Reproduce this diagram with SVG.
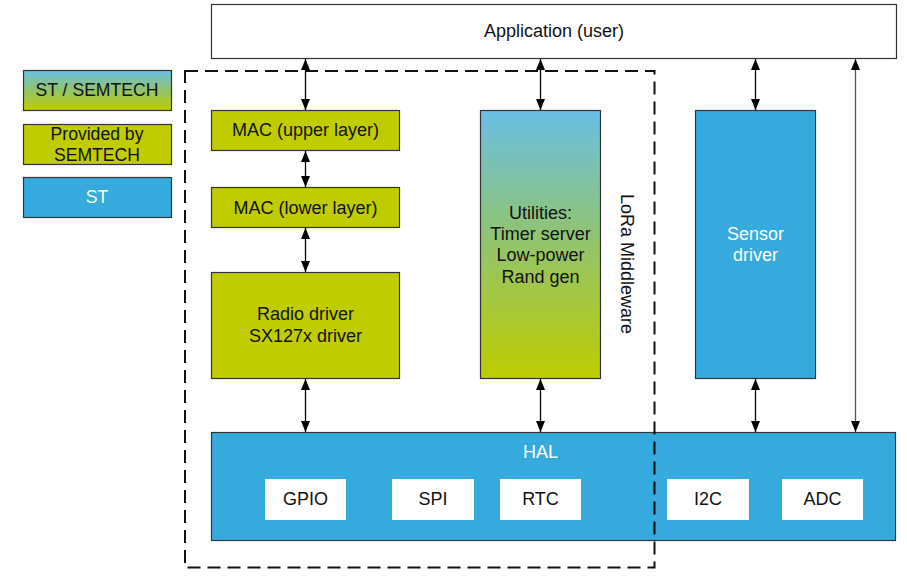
<svg xmlns="http://www.w3.org/2000/svg" width="907" height="585" viewBox="0 0 907 585">
<defs>
<linearGradient id="grad" x1="0" y1="0" x2="0" y2="1">
<stop offset="0" stop-color="#69BFE5"/>
<stop offset="0.5" stop-color="#93C46A"/>
<stop offset="1" stop-color="#BDCC00"/>
</linearGradient>
<marker id="ah" markerUnits="userSpaceOnUse" markerWidth="12" markerHeight="9" refX="11" refY="4.5" orient="auto-start-reverse">
<path d="M0,0 L11,4.5 L0,9 z" fill="#000"/>
</marker>
</defs>
<style>
.box{stroke:#333;stroke-width:1.2}
.green{fill:#BFCC00}
.blue{fill:#36AADC}
.white{fill:#fff}
.grad{fill:url(#grad)}
text{font-family:"Liberation Sans",Arial,sans-serif;font-size:18px;text-anchor:middle;dominant-baseline:central;fill:#111}
.lg{font-size:17.6px}
.wt{fill:#fff}
.conn line{stroke:#000;stroke-width:1.3;marker-start:url(#ah);marker-end:url(#ah)}
.conn line.gray{stroke:#555}
</style>

<g id="legend-st-semtech"><rect class="box grad" x="23.5" y="70.5" width="148" height="40"/><text class="lg" x="97" y="90">ST / SEMTECH</text></g>
<g id="legend-semtech"><rect class="box green" x="23.5" y="124.5" width="148" height="40"/><text class="lg" x="97" y="134">Provided by</text><text class="lg" x="97" y="155">SEMTECH</text></g>
<g id="legend-st"><rect class="box blue" x="23.5" y="177.5" width="148" height="40"/><text class="lg wt" x="97" y="197">ST</text></g>

<g id="application"><rect class="box white" x="211.5" y="4.5" width="685" height="54"/><text x="554" y="31">Application (user)</text></g>

<g id="mac-upper"><rect class="box green" x="211.5" y="110.5" width="188" height="40"/><text x="305.5" y="130">MAC (upper layer)</text></g>
<g id="mac-lower"><rect class="box green" x="211.5" y="187.5" width="188" height="40"/><text x="305.5" y="208">MAC (lower layer)</text></g>
<g id="radio-driver"><rect class="box green" x="211.5" y="272.5" width="188" height="106"/><text x="305.5" y="314">Radio driver</text><text x="305.5" y="336">SX127x driver</text></g>

<g id="utilities"><rect class="box grad" x="480.5" y="110.5" width="120" height="268"/>
<text x="540.5" y="213">Utilities:</text><text x="540.5" y="234">Timer server</text><text x="540.5" y="255">Low-power</text><text x="540.5" y="277">Rand gen</text></g>

<g id="sensor-driver"><rect class="box blue" x="695.5" y="110.5" width="120" height="268"/><text class="wt" x="755.5" y="234">Sensor</text><text class="wt" x="755.5" y="255">driver</text></g>

<g id="hal"><rect class="box blue" x="211.5" y="432.5" width="684" height="108"/><text class="wt" x="540.5" y="452">HAL</text>
<g id="gpio"><rect class="white" x="265" y="479" width="81" height="41"/><text x="305.5" y="499">GPIO</text></g>
<g id="spi"><rect class="white" x="392" y="479" width="82" height="41"/><text x="433" y="499">SPI</text></g>
<g id="rtc"><rect class="white" x="500" y="479" width="81" height="41"/><text x="540.5" y="499">RTC</text></g>
<g id="i2c"><rect class="white" x="667" y="479" width="82" height="41"/><text x="708" y="499">I2C</text></g>
<g id="adc"><rect class="white" x="782" y="479" width="81" height="41"/><text x="822.5" y="499">ADC</text></g>
</g>

<g id="lora-middleware"><rect x="185" y="71" width="469.5" height="496.5" fill="none" stroke="#111" stroke-width="2" stroke-dasharray="13,7"/>
<text x="627" y="264" transform="rotate(90 627 264)">LoRa Middleware</text></g>

<g class="conn" id="connectors">
<line x1="305.5" y1="59" x2="305.5" y2="110"/>
<line x1="305.5" y1="151" x2="305.5" y2="187"/>
<line x1="305.5" y1="228" x2="305.5" y2="272"/>
<line x1="305.5" y1="379" x2="305.5" y2="432"/>
<line x1="540.5" y1="59" x2="540.5" y2="110"/>
<line x1="540.5" y1="379" x2="540.5" y2="432"/>
<line x1="755.5" y1="59" x2="755.5" y2="110"/>
<line x1="755.5" y1="379" x2="755.5" y2="432"/>
<line class="gray" x1="855.5" y1="59" x2="855.5" y2="432"/>
</g>
</svg>
